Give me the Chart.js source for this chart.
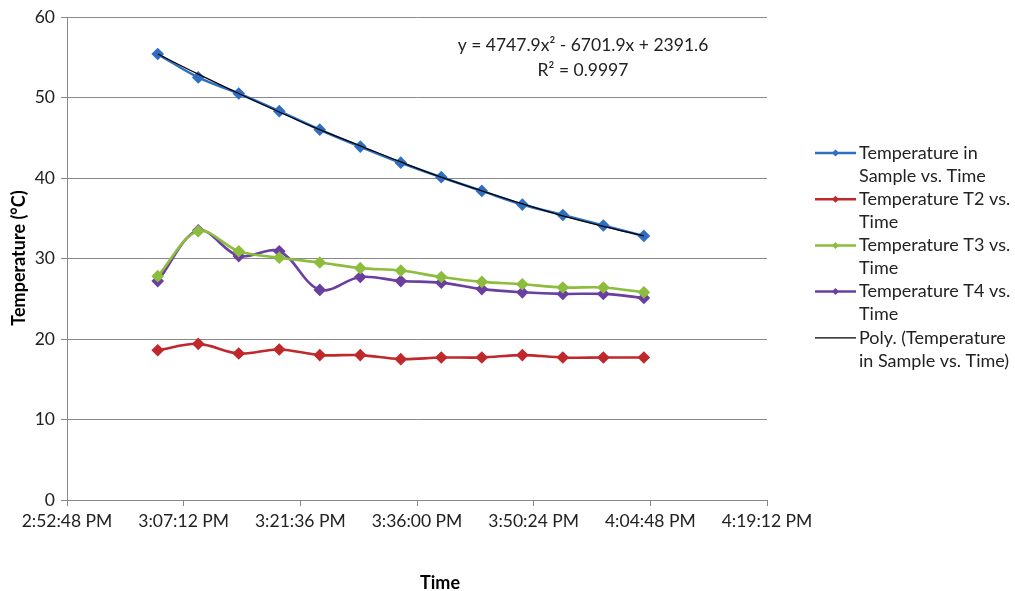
<!DOCTYPE html>
<html>
<head>
<meta charset="utf-8">
<script src="https://cdn.jsdelivr.net/npm/chart.js@4"></script>
<style>
  html, body { margin: 0; padding: 0; background: #fff; }
  #wrap { width: 1015px; height: 591px; position: relative; }
</style>
</head>
<body>
<div id="wrap"><canvas id="chart" width="1015" height="591"></canvas></div>
<script>
// Sample times (PM) and readings in °C
const times = ['3:04:00', '3:09:00', '3:14:00', '3:19:00', '3:24:00', '3:29:00', '3:34:00',
               '3:39:00', '3:44:00', '3:49:00', '3:54:00', '3:59:00', '4:04:00'];
const sampleTemp = [55.4, 52.5, 50.5, 48.3, 46.0, 43.9, 41.9, 40.1, 38.4, 36.7, 35.4, 34.1, 32.8];
const t2Temp = [18.6, 19.4, 18.2, 18.7, 18.0, 18.0, 17.5, 17.7, 17.7, 18.0, 17.7, 17.7, 17.7];
const t3Temp = [27.8, 33.4, 30.9, 30.1, 29.5, 28.8, 28.5, 27.7, 27.1, 26.8, 26.4, 26.4, 25.8];
const t4Temp = [27.2, 33.5, 30.3, 30.9, 26.1, 27.7, 27.2, 27.0, 26.2, 25.8, 25.6, 25.6, 25.1];
// polynomial trend line as drawn on the chart
const trendTemp = [55.4, 52.9, 50.5, 48.2, 46.0, 44.0, 42.0, 40.1, 38.4, 36.8, 35.3, 34.0, 32.8];

const seriesNames = ['Temperature in Sample vs. Time', 'Temperature T2 vs. Time',
                     'Temperature T3 vs. Time', 'Temperature T4 vs. Time',
                     'Poly. (Temperature in Sample vs. Time)'];
const legendLines = [['Temperature in', 'Sample vs. Time'], ['Temperature T2 vs.', 'Time'],
                     ['Temperature T3 vs.', 'Time'], ['Temperature T4 vs.', 'Time'],
                     ['Poly. (Temperature', 'in Sample vs. Time)']];
const colors = ['#2f6fc2', '#c0282c', '#8cbd3c', '#6a3fa0', '#000000'];

// x axis range: 2:52:48 PM to 4:19:12 PM, every 14:24
const xMin = '2:52:48', xMax = '4:19:12', xStep = 864;

function toSec(s) {
    const p = s.split(':').map(Number);
    return (p[0] + 12) * 3600 + p[1] * 60 + p[2];
}
function fmtTime(v) {
    let h = Math.floor(v / 3600), m = Math.floor((v % 3600) / 60), s = Math.round(v % 60);
    if (h > 12) h -= 12;
    return h + ':' + String(m).padStart(2, '0') + ':' + String(s).padStart(2, '0') + ' PM';
}
function pts(arr) {
    return arr.map((y, i) => ({x: toSec(times[i]), y: y}));
}

const FONT = 'Lato, "Open Sans", sans-serif';

const extras = {
    id: 'extras',
    afterDraw(chart) {
        const ctx = chart.ctx;
        ctx.save();
        ctx.fillStyle = '#222';
        // trend equation
        ctx.font = '17.5px ' + FONT;
        ctx.textAlign = 'center';
        ctx.textBaseline = 'middle';
        ctx.fillText('y = 4747.9x\u00b2 - 6701.9x + 2391.6', 583, 45);
        ctx.fillText('R\u00b2 = 0.9997', 583, 70);
        // axis titles
        ctx.font = 'bold 18px ' + FONT;
        ctx.fillStyle = '#000';
        ctx.fillText('Time', 440, 583);
        ctx.save();
        ctx.translate(19, 258);
        ctx.rotate(-Math.PI / 2);
        ctx.fillText('Temperature (\u00b0C)', 0, 0);
        ctx.restore();
        // legend
        ctx.font = '18px ' + FONT;
        ctx.textAlign = 'left';
        const y0 = 153, rowGap = 46.2, lineGap = 23;
        legendLines.forEach((lines, i) => {
            const y = y0 + i * rowGap;
            ctx.strokeStyle = colors[i];
            ctx.lineWidth = i === 4 ? 1.2 : 2.5;
            ctx.beginPath();
            ctx.moveTo(815, y);
            ctx.lineTo(856, y);
            ctx.stroke();
            if (i < 4) {
                ctx.fillStyle = colors[i];
                ctx.beginPath();
                ctx.moveTo(835.5, y - 3.5);
                ctx.lineTo(839, y);
                ctx.lineTo(835.5, y + 3.5);
                ctx.lineTo(832, y);
                ctx.closePath();
                ctx.fill();
            }
            ctx.fillStyle = '#222';
            ctx.fillText(lines[0], 859, y);
            ctx.fillText(lines[1], 859, y + lineGap);
        });
        ctx.restore();
    }
};

function lineSet(idx, data) {
    return {
        label: seriesNames[idx],
        data: pts(data),
        borderColor: colors[idx],
        backgroundColor: colors[idx],
        borderWidth: 2.6,
        pointStyle: 'rectRot',
        pointRadius: 4.5,
        pointHoverRadius: 4.5,
        tension: 0.35,
        order: 2
    };
}

new Chart(document.getElementById('chart'), {
    type: 'line',
    data: {
        datasets: [
            lineSet(0, sampleTemp),
            lineSet(1, t2Temp),
            lineSet(2, t3Temp),
            lineSet(3, t4Temp),
            {
                label: seriesNames[4],
                data: pts(trendTemp),
                borderColor: colors[4],
                borderWidth: 1.3,
                pointRadius: 0,
                tension: 0.4,
                order: 1
            }
        ]
    },
    options: {
        responsive: false,
        animation: false,
        layout: { padding: { left: 0, right: 248, top: 17, bottom: 0 } },
        plugins: { legend: { display: false }, tooltip: { enabled: false } },
        scales: {
            x: {
                type: 'linear',
                min: toSec(xMin),
                max: toSec(xMax),
                afterBuildTicks(scale) {
                    const t = [];
                    for (let v = toSec(xMin); v <= toSec(xMax); v += xStep) t.push({value: v});
                    scale.ticks = t;
                },
                afterFit(scale) { scale.height = 91; },
                grid: { display: true, drawOnChartArea: false, drawTicks: true, tickLength: 6, color: '#888' },
                border: { color: '#888', width: 1 },
                ticks: {
                    callback: v => fmtTime(v),
                    maxRotation: 0,
                    autoSkip: false,
                    padding: 5,
                    color: '#222',
                    font: { family: FONT, size: 17.5 }
                }
            },
            y: {
                min: 0,
                max: 60,
                afterFit(scale) { scale.width = 67; },
                grid: { color: '#888', tickLength: 6 },
                border: { color: '#888', width: 1 },
                ticks: {
                    stepSize: 10,
                    padding: 6,
                    color: '#222',
                    font: { family: FONT, size: 17.5 }
                }
            }
        }
    },
    plugins: [extras]
});
</script>
</body>
</html>
